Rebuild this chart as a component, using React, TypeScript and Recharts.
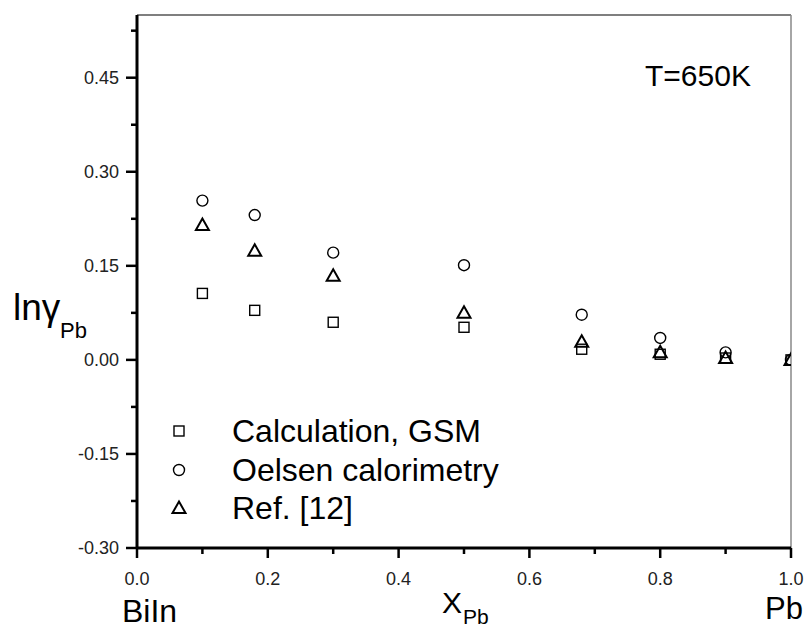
import React from "react";
import { ScatterChart, Scatter, XAxis, YAxis, ReferenceLine } from "recharts";

const X_PB = [0.1, 0.18, 0.3, 0.5, 0.68, 0.8, 0.9, 1.0];
const GSM = [0.106, 0.079, 0.06, 0.052, 0.017, 0.009, 0.003, 0.0];
const OELSEN = [0.254, 0.231, 0.171, 0.151, 0.072, 0.035, 0.012, 0.0];
const REF12 = [0.215, 0.174, 0.134, 0.075, 0.029, 0.012, 0.003, 0.0];

const X_TICKS = [0, 0.1, 0.2, 0.3, 0.4, 0.5, 0.6, 0.7, 0.8, 0.9, 1.0];
const Y_TICKS = [-0.3, -0.225, -0.15, -0.075, 0, 0.075, 0.15, 0.225, 0.3, 0.375, 0.45, 0.525];

const LEGEND_LABELS = ["Calculation, GSM", "Oelsen calorimetry", "Ref. [12]"];

const FONT = "'Liberation Sans', Arial, sans-serif";

const toPoints = (ys: number[]) => X_PB.map((x, i) => ({ x, y: ys[i] }));

const Square = ({ cx, cy }: any) => (
  <rect x={cx - 5} y={cy - 5} width={10} height={10} fill="none" stroke="#000" strokeWidth={1.4} />
);
const Circle = ({ cx, cy }: any) => (
  <circle cx={cx} cy={cy} r={5.5} fill="none" stroke="#000" strokeWidth={1.4} />
);
const Triangle = ({ cx, cy }: any) => (
  <polygon
    points={`${cx - 6.5},${cy + 5} ${cx + 6.5},${cy + 5} ${cx},${cy - 6.5}`}
    fill="none"
    stroke="#000"
    strokeWidth={2}
  />
);

const isMajor = (v: number, step: number) => Math.abs(v / step - Math.round(v / step)) < 1e-6;

// tickSize / tickMargin are 0, so the tick's x,y sit on the axis line
const YTick = (props: any) => {
  const { x, y, payload } = props;
  const major = isMajor(payload.value, 0.15);
  return (
    <g>
      <line x1={x - (major ? 11 : 6)} x2={x} y1={y} y2={y} stroke="#000" strokeWidth={2.5} />
      {major && (
        <text
          x={x - 18}
          y={y + 6}
          textAnchor="end"
          style={{ fontSize: 18, fontFamily: FONT }}
          fill="#222"
        >
          {payload.value.toFixed(2)}
        </text>
      )}
    </g>
  );
};

const XTick = (props: any) => {
  const { x, y, payload } = props;
  const major = isMajor(payload.value, 0.2);
  return (
    <g>
      <line x1={x} x2={x} y1={y} y2={y + (major ? 10 : 6)} stroke="#000" strokeWidth={2.5} />
      {major && (
        <text
          x={x}
          y={y + 37}
          textAnchor="middle"
          style={{ fontSize: 18, fontFamily: FONT }}
          fill="#222"
        >
          {payload.value.toFixed(1)}
        </text>
      )}
    </g>
  );
};

export default function App() {
  const markers = [Square, Circle, Triangle];
  return (
    <div style={{ position: "absolute", left: 0, top: 0, width: 806, height: 631, background: "#fff" }}>
      <ScatterChart width={806} height={631} margin={{ top: 15, right: 15, left: 0, bottom: 0 }}>
        <XAxis
          type="number"
          dataKey="x"
          domain={[0, 1]}
          ticks={X_TICKS}
          interval={0}
          allowDataOverflow
          height={83}
          tickSize={0}
          tickMargin={0}
          tickLine={false}
          axisLine={{ stroke: "#000", strokeWidth: 3 }}
          tick={<XTick />}
        />
        <YAxis
          type="number"
          dataKey="y"
          domain={[-0.3, 0.55]}
          ticks={Y_TICKS}
          interval={0}
          allowDataOverflow
          width={137}
          tickSize={0}
          tickMargin={0}
          tickLine={false}
          axisLine={{ stroke: "#000", strokeWidth: 3 }}
          tick={<YTick />}
        />
        <ReferenceLine y={0.55} stroke="#555" strokeWidth={1.5} />
        <ReferenceLine x={1} stroke="#888" strokeWidth={1.5} />
        <Scatter name={LEGEND_LABELS[0]} data={toPoints(GSM)} shape={<Square />} isAnimationActive={false} />
        <Scatter name={LEGEND_LABELS[1]} data={toPoints(OELSEN)} shape={<Circle />} isAnimationActive={false} />
        <Scatter name={LEGEND_LABELS[2]} data={toPoints(REF12)} shape={<Triangle />} isAnimationActive={false} />
      </ScatterChart>

      <svg
        width={806}
        height={631}
        style={{ position: "absolute", left: 0, top: 0, pointerEvents: "none" }}
        fontFamily={FONT}
        fill="#000"
      >
        <text x={645} y={86} fontSize={30}>T=650K</text>

        <text x={13} y={320} fontSize={37}>lnγ</text>
        <text x={60} y={338} fontSize={22}>Pb</text>

        <text x={442} y={613} fontSize={30}>X</text>
        <text x={463} y={624} fontSize={21}>Pb</text>

        <text x={122} y={622} fontSize={32}>BiIn</text>
        <text x={765} y={619} fontSize={31}>Pb</text>

        {LEGEND_LABELS.map((label, i) => {
          const cy = [431, 470, 508][i];
          const M = markers[i];
          return (
            <g key={label}>
              <M cx={179} cy={cy} />
              <text x={232} y={cy + 11} fontSize={32}>{label}</text>
            </g>
          );
        })}
      </svg>
    </div>
  );
}
